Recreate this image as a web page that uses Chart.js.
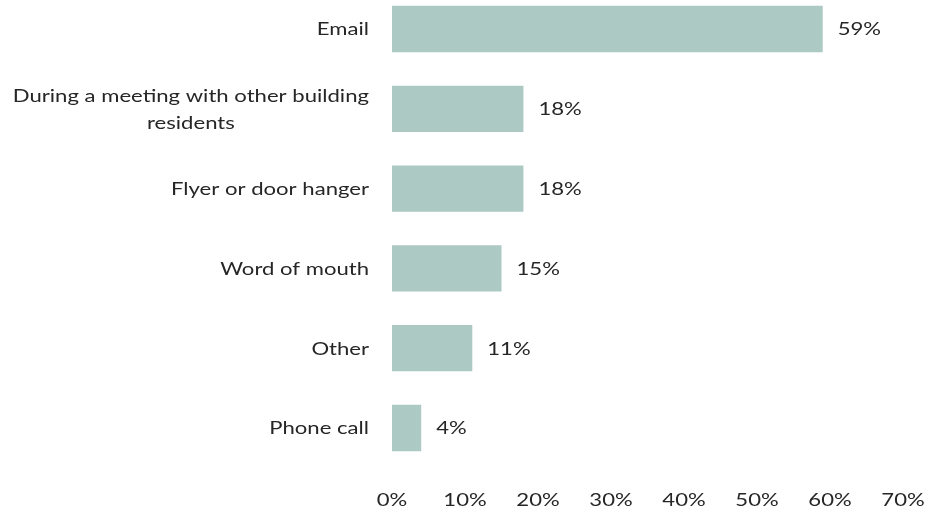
<!DOCTYPE html>
<html>
<head>
<meta charset="utf-8">
<title>How residents heard about it</title>
<script src="https://cdn.jsdelivr.net/npm/chart.js"></script>
<style>
  html, body { margin: 0; padding: 0; background: #fff; overflow: hidden; }
  canvas { display: block; }
</style>
</head>
<body>
<canvas id="chart" width="927" height="510"></canvas>
<script>
// categories top to bottom; nested arrays are wrapped labels
const categories = [
  'Email',
  ['During a meeting with other building', 'residents'],
  'Flyer or door hanger',
  'Word of mouth',
  'Other',
  'Phone call'
];
const shares = [59, 18, 18, 15, 11, 4];
const tickValues = [0, 10, 20, 30, 40, 50, 60, 70];

const FONT = '17px Lato, "Open Sans", sans-serif';
const STRETCH = 1.3;   // wide lettering, like the original export
const TEXT = '#262626';
const BAR = '#adc9c3';

// draws one line of text stretched horizontally around its anchor
function wideText(ctx, text, x, y, align) {
  ctx.save();
  ctx.translate(x, y);
  ctx.scale(STRETCH, 1);
  ctx.textAlign = align;
  ctx.fillText(text, 0, 0);
  ctx.restore();
}

const textLayer = {
  id: 'textLayer',
  afterDatasetsDraw(chart) {
    const ctx = chart.ctx;
    const { x, y } = chart.scales;
    const area = chart.chartArea;
    ctx.save();
    ctx.font = FONT;
    ctx.fillStyle = TEXT;
    ctx.textBaseline = 'middle';

    // category names: right aligned block, wrapped lines centred in it
    const right = area.left - 23;
    const lineH = 27;
    categories.forEach((label, i) => {
      const lines = Array.isArray(label) ? label : [label];
      const blockW = Math.max(...lines.map(l => ctx.measureText(l).width)) * STRETCH;
      const cx = right - blockW / 2;
      const cy = y.getPixelForValue(i) + 1;
      lines.forEach((l, j) => {
        wideText(ctx, l, cx, cy + (j - (lines.length - 1) / 2) * lineH, 'center');
      });
    });

    // value labels past the bar ends
    chart.getDatasetMeta(0).data.forEach((bar, i) => {
      wideText(ctx, shares[i] + '%', bar.x + 15, bar.y + 1, 'left');
    });

    // x axis tick labels
    x.ticks.forEach(t => {
      wideText(ctx, t.value + '%', x.getPixelForValue(t.value), area.bottom + 73, 'center');
    });
    ctx.restore();
  }
};

new Chart(document.getElementById('chart'), {
  type: 'bar',
  data: {
    labels: categories.map((c, i) => i),
    datasets: [{
      data: shares,
      backgroundColor: BAR,
      borderWidth: 0,
      categoryPercentage: 1,
      barPercentage: 0.58,
      clip: false
    }]
  },
  options: {
    indexAxis: 'y',
    responsive: false,
    animation: false,
    layout: { padding: { left: 0, right: 24, top: 29, bottom: 0 } },
    plugins: {
      legend: { display: false },
      tooltip: { enabled: false }
    },
    scales: {
      x: {
        min: 0,
        max: 70,
        afterBuildTicks(scale) { scale.ticks = tickValues.map(v => ({ value: v })); },
        ticks: { display: false },
        grid: { display: false, drawTicks: false },
        border: { display: false },
        afterFit(scale) { scale.height = 82; scale.paddingLeft = 0; scale.paddingRight = 0; }
      },
      y: {
        offset: false,
        ticks: { display: false },
        grid: { display: false, drawTicks: false },
        border: { display: false },
        afterFit(scale) { scale.width = 392; }
      }
    }
  },
  plugins: [textLayer]
});
</script>
</body>
</html>
